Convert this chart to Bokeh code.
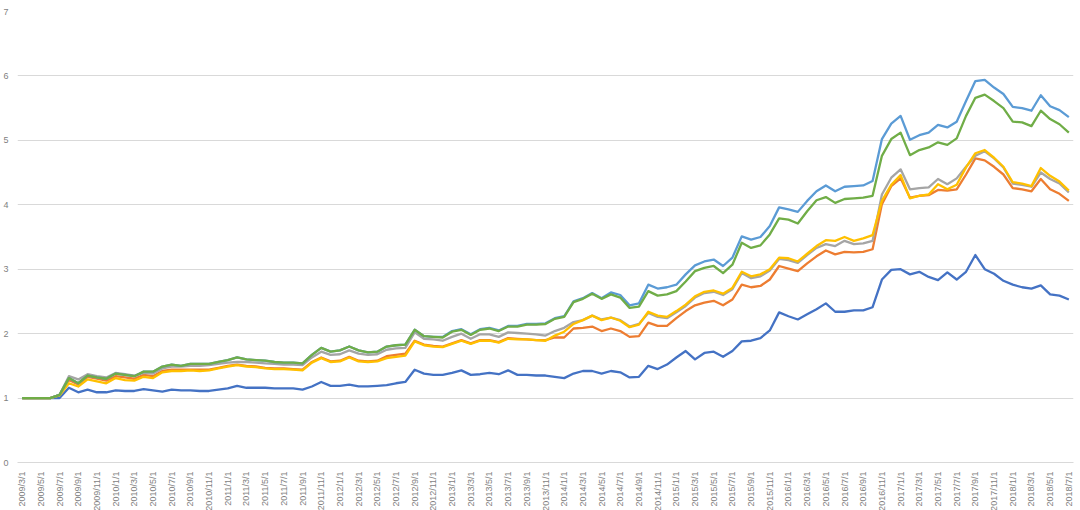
import math
from bokeh.plotting import figure
from bokeh.models import FixedTicker, Range1d
from bokeh.embed import file_html
from bokeh.resources import INLINE

# Categories: monthly dates 2009/3/1 .. 2018/7/1
months = [f"{2009 + (m + 2) // 12}/{(m + 2) % 12 + 1}/1" for m in range(113)]
tick_idx = list(range(0, 113, 2))
tick_labels = [months[i] for i in tick_idx]
y_ticks = [0, 1, 2, 3, 4, 5, 6, 7]

s1 = [1.0, 1.0, 1.0, 1.0, 1.0, 1.16, 1.09, 1.13, 1.09, 1.09,
      1.12, 1.11, 1.11, 1.14, 1.12, 1.10, 1.13, 1.12, 1.12, 1.11,
      1.11, 1.13, 1.15, 1.19, 1.16, 1.16, 1.16, 1.15, 1.15, 1.15,
      1.13, 1.18, 1.25, 1.19, 1.19, 1.21, 1.18, 1.18, 1.19, 1.20,
      1.23, 1.25, 1.44, 1.38, 1.36, 1.36, 1.39, 1.43, 1.36, 1.37,
      1.39, 1.37, 1.43, 1.36, 1.36, 1.35, 1.35, 1.33, 1.31, 1.38,
      1.42, 1.42, 1.38, 1.42, 1.40, 1.32, 1.33, 1.50, 1.45, 1.52,
      1.63, 1.73, 1.60, 1.70, 1.72, 1.64, 1.73, 1.88, 1.89, 1.93,
      2.05, 2.33, 2.27, 2.22, 2.30, 2.38, 2.47, 2.34, 2.34, 2.36,
      2.36, 2.41, 2.84, 2.99, 3.00, 2.92, 2.96, 2.88, 2.83, 2.95,
      2.84, 2.96, 3.22, 3.00, 2.93, 2.82, 2.76, 2.72, 2.70, 2.75,
      2.61, 2.59, 2.53]

s2 = [1.0, 1.0, 1.0, 1.0, 1.05, 1.28, 1.21, 1.33, 1.30, 1.27,
      1.34, 1.32, 1.30, 1.36, 1.34, 1.42, 1.44, 1.44, 1.44, 1.44,
      1.44, 1.47, 1.50, 1.52, 1.50, 1.49, 1.47, 1.46, 1.46, 1.45,
      1.44, 1.56, 1.63, 1.57, 1.58, 1.64, 1.58, 1.57, 1.58, 1.65,
      1.67, 1.69, 1.89, 1.83, 1.81, 1.80, 1.85, 1.90, 1.85, 1.90,
      1.90, 1.87, 1.93, 1.92, 1.91, 1.90, 1.90, 1.94, 1.94, 2.08,
      2.09, 2.11, 2.04, 2.08, 2.04, 1.95, 1.96, 2.17, 2.12, 2.12,
      2.24, 2.35, 2.44, 2.48, 2.51, 2.44, 2.53, 2.76, 2.72, 2.74,
      2.84, 3.05, 3.01, 2.97, 3.09, 3.20, 3.29, 3.23, 3.27, 3.26,
      3.27, 3.31, 4.01, 4.29, 4.41, 4.11, 4.14, 4.15, 4.23, 4.22,
      4.24, 4.47, 4.72, 4.69, 4.59, 4.47, 4.26, 4.24, 4.21, 4.40,
      4.24, 4.17, 4.06]

s3 = [1.0, 1.0, 1.0, 1.0, 1.05, 1.34, 1.29, 1.37, 1.34, 1.32,
      1.39, 1.37, 1.35, 1.39, 1.38, 1.46, 1.49, 1.49, 1.50, 1.50,
      1.51, 1.53, 1.55, 1.56, 1.56, 1.55, 1.54, 1.53, 1.52, 1.52,
      1.51, 1.63, 1.72, 1.67, 1.68, 1.74, 1.69, 1.67, 1.68, 1.75,
      1.77, 1.78, 2.02, 1.92, 1.91, 1.89, 1.95, 2.00, 1.92, 1.99,
      1.99, 1.95, 2.02, 2.01, 2.00, 1.99, 1.97, 2.04, 2.09, 2.18,
      2.21, 2.28, 2.22, 2.25, 2.21, 2.11, 2.15, 2.32, 2.26, 2.24,
      2.33, 2.43, 2.56, 2.63, 2.65, 2.60, 2.69, 2.94, 2.86, 2.89,
      2.98, 3.16, 3.14, 3.10, 3.22, 3.33, 3.39, 3.36, 3.44, 3.39,
      3.40, 3.44, 4.16, 4.42, 4.55, 4.24, 4.26, 4.27, 4.40, 4.32,
      4.41, 4.59, 4.76, 4.83, 4.72, 4.58, 4.33, 4.31, 4.28, 4.50,
      4.40, 4.33, 4.19]

s4 = [1.0, 1.0, 1.0, 1.0, 1.04, 1.23, 1.18, 1.29, 1.26, 1.23,
      1.31, 1.28, 1.27, 1.33, 1.31, 1.40, 1.42, 1.42, 1.43, 1.42,
      1.43, 1.46, 1.49, 1.51, 1.49, 1.48, 1.46, 1.45, 1.45, 1.44,
      1.43, 1.55, 1.62, 1.56, 1.57, 1.63, 1.57, 1.56, 1.57, 1.62,
      1.64, 1.66, 1.88, 1.82, 1.80, 1.79, 1.84, 1.89, 1.84, 1.89,
      1.89, 1.86, 1.92, 1.91, 1.91, 1.90, 1.89, 1.97, 2.03, 2.15,
      2.21, 2.28, 2.21, 2.25, 2.20, 2.10, 2.14, 2.34, 2.28, 2.26,
      2.35, 2.45, 2.58, 2.65, 2.67, 2.62, 2.71, 2.96, 2.89, 2.92,
      3.00, 3.18, 3.17, 3.12, 3.24, 3.36, 3.45, 3.44, 3.50, 3.44,
      3.48, 3.53, 4.06, 4.31, 4.46, 4.10, 4.14, 4.16, 4.32, 4.24,
      4.31, 4.58, 4.80, 4.85, 4.73, 4.59, 4.35, 4.33, 4.29, 4.57,
      4.45, 4.36, 4.22]

s5 = [1.0, 1.0, 1.0, 1.0, 1.05, 1.31, 1.23, 1.35, 1.32, 1.30,
      1.38, 1.36, 1.34, 1.41, 1.41, 1.49, 1.52, 1.50, 1.53, 1.53,
      1.53, 1.56, 1.59, 1.63, 1.60, 1.59, 1.58, 1.56, 1.55, 1.55,
      1.54, 1.67, 1.78, 1.72, 1.74, 1.80, 1.74, 1.71, 1.72, 1.80,
      1.82, 1.83, 2.06, 1.96, 1.95, 1.95, 2.04, 2.07, 1.99, 2.07,
      2.09, 2.05, 2.12, 2.12, 2.15, 2.15, 2.16, 2.24, 2.27, 2.50,
      2.55, 2.63, 2.55, 2.64, 2.60, 2.44, 2.47, 2.76, 2.70, 2.72,
      2.76, 2.92, 3.06, 3.12, 3.15, 3.05, 3.18, 3.51, 3.46, 3.50,
      3.67, 3.96, 3.93, 3.89, 4.06, 4.21, 4.30, 4.21, 4.28, 4.29,
      4.30, 4.37, 5.02, 5.26, 5.38, 5.01, 5.08, 5.12, 5.24, 5.20,
      5.29, 5.61, 5.92, 5.94, 5.82, 5.72, 5.52, 5.50, 5.46, 5.70,
      5.53, 5.47, 5.36]

s6 = [1.0, 1.0, 1.0, 1.0, 1.05, 1.31, 1.23, 1.35, 1.32, 1.30,
      1.38, 1.36, 1.34, 1.41, 1.41, 1.49, 1.52, 1.50, 1.53, 1.53,
      1.53, 1.56, 1.59, 1.63, 1.60, 1.59, 1.58, 1.56, 1.55, 1.55,
      1.54, 1.67, 1.78, 1.72, 1.74, 1.80, 1.74, 1.71, 1.72, 1.80,
      1.82, 1.83, 2.06, 1.96, 1.95, 1.94, 2.03, 2.06, 1.98, 2.06,
      2.08, 2.04, 2.11, 2.11, 2.14, 2.14, 2.15, 2.23, 2.26, 2.49,
      2.54, 2.62, 2.54, 2.61, 2.56, 2.40, 2.42, 2.66, 2.59, 2.61,
      2.66, 2.81, 2.97, 3.02, 3.05, 2.94, 3.07, 3.41, 3.33, 3.37,
      3.54, 3.79, 3.77, 3.71, 3.90, 4.07, 4.12, 4.03, 4.09, 4.10,
      4.11, 4.14, 4.76, 5.02, 5.12, 4.77, 4.85, 4.89, 4.97, 4.93,
      5.03, 5.38, 5.66, 5.71, 5.61, 5.50, 5.29, 5.28, 5.22, 5.46,
      5.33, 5.25, 5.12]

series = [s1, s2, s3, s4, s5, s6]
colors = ["#4472C4", "#ED7D31", "#A5A5A5", "#FFC000", "#5B9BD5", "#70AD47"]

xs = list(range(len(months)))

p = figure(frame_width=1056, frame_height=451, output_backend="svg", toolbar_location=None,
           x_range=Range1d(-0.5, len(months) - 0.5), y_range=Range1d(0, 7),
           min_border_left=15, min_border_right=4, min_border_top=11, min_border_bottom=0)
p.outline_line_color = None
p.background_fill_color = "white"
p.border_fill_color = "white"

for s, c in zip(series, colors):
    p.line(xs, s, line_color=c, line_width=2.3, line_join="round")

p.xgrid.grid_line_color = None
p.ygrid.grid_line_color = "#d9d9d9"
p.ygrid.grid_line_width = 1

p.xaxis.ticker = FixedTicker(ticks=tick_idx)
p.xaxis.major_label_overrides = {i: lab for i, lab in zip(tick_idx, tick_labels)}
p.xaxis.major_label_orientation = math.pi / 2
p.xaxis.axis_line_color = "#d9d9d9"
p.xaxis.major_tick_line_color = None
p.xaxis.minor_tick_line_color = None
p.xaxis.major_label_text_font = "Liberation Sans"
p.xaxis.major_label_text_font_size = "9px"
p.xaxis.major_label_text_color = "#7f7f7f"
p.xaxis.major_label_standoff = 3

p.yaxis.ticker = FixedTicker(ticks=y_ticks)
p.yaxis.axis_line_color = None
p.yaxis.major_tick_line_color = None
p.yaxis.minor_tick_line_color = None
p.yaxis.major_label_text_font = "Liberation Sans"
p.yaxis.major_label_text_font_size = "9px"
p.yaxis.major_label_text_color = "#7f7f7f"
p.yaxis.major_label_standoff = 3

open("out.html", "w").write(file_html(p, INLINE))
